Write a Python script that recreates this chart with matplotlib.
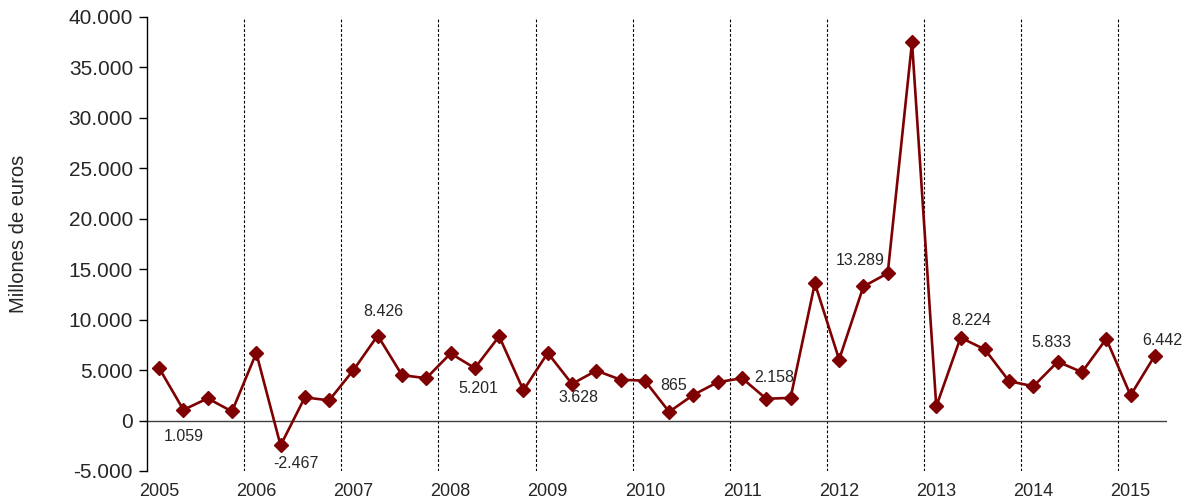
import matplotlib
matplotlib.use("Agg")
import matplotlib.pyplot as plt
import numpy as np

plt.rcParams['font.family'] = ['Liberation Sans', 'DejaVu Sans']

years = ['2005', '2006', '2007', '2008', '2009', '2010', '2011', '2012', '2013', '2014', '2015']
values = [5200, 1059, 2200, 900,
          6700, -2467, 2300, 2000,
          5000, 8426, 4500, 4200,
          6650, 5201, 8350, 3000,
          6700, 3628, 4950, 4050,
          3950, 865, 2550, 3800,
          4200, 2158, 2250, 13600,
          6050, 13289, 14600, 37500,
          1400, 8224, 7050, 3900,
          3400, 5833, 4800, 8100,
          2500, 6442]
labeled_idx = [1, 5, 9, 13, 17, 21, 25, 29, 33, 37, 41]
label_offsets = [(0, -27), (15, -18), (6, 24), (3, -20), (6, -14), (4, 26),
                 (8, 21), (-3, 26), (11, 17), (-6, 19), (7, 15)]
yticks = [-5000, 0, 5000, 10000, 15000, 20000, 25000, 30000, 35000, 40000]

def fmt(v):
    s = f"{abs(v):,}".replace(",", ".")
    return ("-" if v < 0 else "") + s

fig = plt.figure(figsize=(11.88, 5.01), dpi=100)
ax = fig.add_axes([147/1188, 30/501, (1167-147)/1188, (471-17)/501])

x = np.arange(len(values))
color = '#7f0000'
ax.plot(x, values, color=color, lw=1.9, marker='D', markersize=7.2, zorder=3)

for i, (dx, dy) in zip(labeled_idx, label_offsets):
    ax.annotate(fmt(values[i]), (x[i], values[i]), xytext=(dx, dy),
                textcoords='offset pixels', ha='center', va='center',
                fontsize=11.5, color='#262626')

for k in range(1, len(years)):
    ax.axvline(4 * k - 0.5, color='black', lw=0.8, ls=(0, (2.5, 1.8)), zorder=1)

ax.axhline(0, color='#404040', lw=1.0, zorder=2)

ax.set_xlim(-0.5, len(values) - 0.5)
ax.set_ylim(-5000, 40000)
ax.set_yticks(yticks)
ax.set_yticklabels([fmt(v) for v in yticks], fontsize=15, color='#262626')
ax.set_xticks([4 * k for k in range(len(years))])
ax.set_xticklabels(years, fontsize=13, color='#262626')
ax.tick_params(axis='x', length=0, pad=9)
ax.tick_params(axis='y', length=6, width=1, direction='out', pad=4)

for s in ['top', 'right', 'bottom']:
    ax.spines[s].set_visible(False)
ax.spines['left'].set_color('black')
ax.spines['left'].set_linewidth(1)

ax.set_ylabel('Millones de euros', fontsize=14.5, color='#262626')
ax.yaxis.set_label_coords((28 - 147) / 1020, 0.522)

fig.savefig('out.png', dpi=100)
